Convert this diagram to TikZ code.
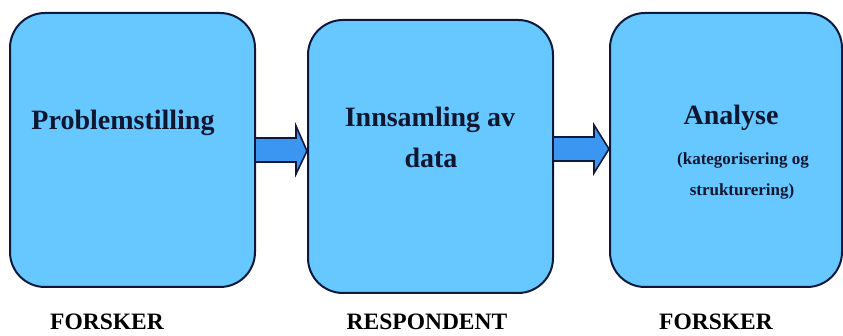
\documentclass[tikz,border=0pt]{standalone}
\usepackage{fontspec}
\setmainfont{Liberation Serif}
\usetikzlibrary{calc}
\definecolor{boxblue}{RGB}{102,200,255}
\definecolor{arrowblue}{RGB}{58,150,240}
\definecolor{navy}{RGB}{12,24,60}
\definecolor{inktext}{RGB}{14,22,48}
\tikzset{
  stagebox/.style={draw=navy, line width=2pt, fill=boxblue, rounded corners=35pt, inner sep=0pt},
  title/.style={font=\fontsize{28}{30}\selectfont\bfseries, text=inktext, anchor=base, inner sep=0pt},
  sub/.style={font=\fontsize{17}{19}\selectfont\bfseries, text=inktext, anchor=base, inner sep=0pt},
  role/.style={font=\fontsize{23.5}{25}\selectfont\bfseries, text=black, anchor=base, inner sep=0pt},
  flow/.style={draw=navy, line width=1.6pt, fill=arrowblue, line join=miter}
}
\begin{document}
\begin{tikzpicture}[x=1pt,y=-1pt]
\useasboundingbox (0,0) rectangle (843,336);
\node[stagebox, minimum width=245pt, minimum height=274pt] (b1) at (132.5,150) {};
\node[stagebox, minimum width=245pt, minimum height=273pt] (b2) at (430.5,156.5) {};
\node[stagebox, minimum width=232pt, minimum height=274pt] (b3) at (726,150) {};
% arrows
\draw[flow] ($(b1.east)+(0,-12)$) -- ++(40,0) -- ++(0,-12) -- ($(b2.west|-b1.east)+(0,1)$) -- ($(b1.east)+(40,24)$) -- ++(0,-12) -- ($(b1.east)+(0,12)$);
\draw[flow] ($(b2.east|-b3.west)+(0,-13)$) -- ++(40,0) -- ++(0,-12) -- ($(b3.west)+(0,-1)$) -- ($(b2.east|-b3.west)+(40,23)$) -- ++(0,-12) -- ($(b2.east|-b3.west)+(0,11)$);
% texts
\node[title] (t1) at (123,130) {Problemstilling};
\node[title] (t2a) at (430,127) {Innsamling av};
\node[title] (t2b) at (431,168) {data};
\node[title] (t3) at (731,125) {Analyse};
\node[sub] (t3a) at (743,165) {(kategorisering og};
\node[sub] (t3b) at (742,196) {strukturering)};
\node[role] (r1) at (107,330) {FORSKER};
\node[role] (r2) at (427,330) {RESPONDENT};
\node[role] (r3) at (716,330) {FORSKER};
\end{tikzpicture}
\end{document}
